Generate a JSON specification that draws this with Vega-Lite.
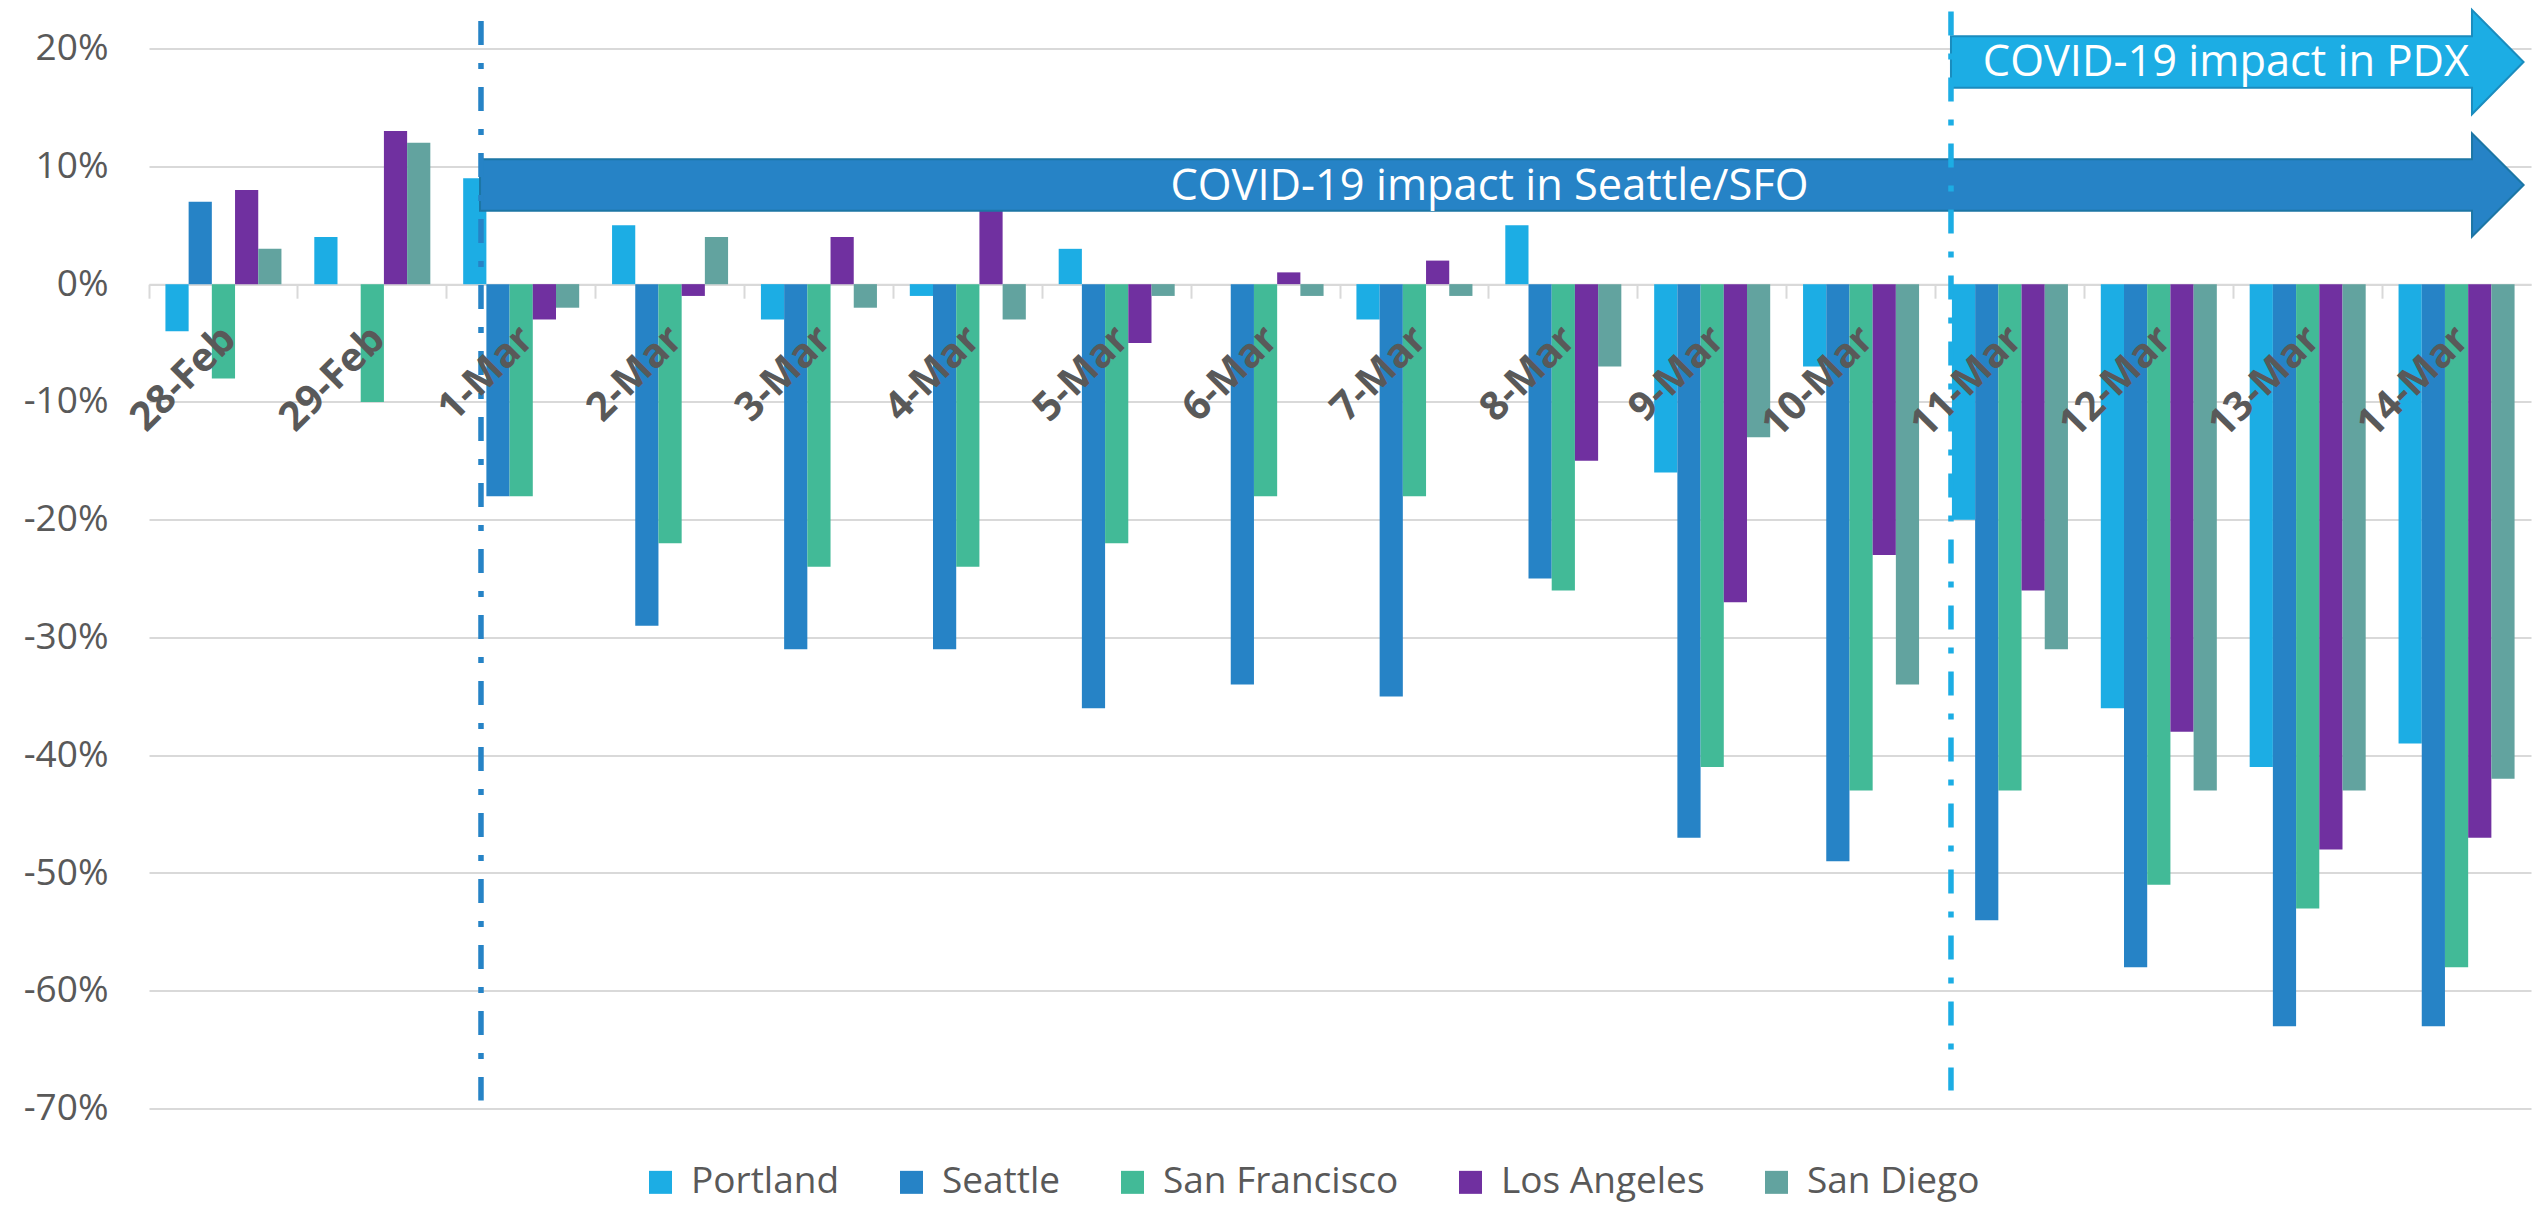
{
  "$schema": "https://vega.github.io/schema/vega-lite/v6.json",
  "width": 2382,
  "height": 1060,
  "autosize": {"type": "none"},
  "padding": {"left": 149, "top": 48.6, "right": 8, "bottom": 97.4},
  "background": "white",
  "config": {"view": {"stroke": null}, "font": "Open Sans"},
  "datasets": {
    "traffic": [
      {"date": "28-Feb", "city": "Portland", "value": -0.04},
      {"date": "28-Feb", "city": "Seattle", "value": 0.07},
      {"date": "28-Feb", "city": "San Francisco", "value": -0.08},
      {"date": "28-Feb", "city": "Los Angeles", "value": 0.08},
      {"date": "28-Feb", "city": "San Diego", "value": 0.03},
      {"date": "29-Feb", "city": "Portland", "value": 0.04},
      {"date": "29-Feb", "city": "Seattle", "value": 0.0},
      {"date": "29-Feb", "city": "San Francisco", "value": -0.10},
      {"date": "29-Feb", "city": "Los Angeles", "value": 0.13},
      {"date": "29-Feb", "city": "San Diego", "value": 0.12},
      {"date": "1-Mar", "city": "Portland", "value": 0.09},
      {"date": "1-Mar", "city": "Seattle", "value": -0.18},
      {"date": "1-Mar", "city": "San Francisco", "value": -0.18},
      {"date": "1-Mar", "city": "Los Angeles", "value": -0.03},
      {"date": "1-Mar", "city": "San Diego", "value": -0.02},
      {"date": "2-Mar", "city": "Portland", "value": 0.05},
      {"date": "2-Mar", "city": "Seattle", "value": -0.29},
      {"date": "2-Mar", "city": "San Francisco", "value": -0.22},
      {"date": "2-Mar", "city": "Los Angeles", "value": -0.01},
      {"date": "2-Mar", "city": "San Diego", "value": 0.04},
      {"date": "3-Mar", "city": "Portland", "value": -0.03},
      {"date": "3-Mar", "city": "Seattle", "value": -0.31},
      {"date": "3-Mar", "city": "San Francisco", "value": -0.24},
      {"date": "3-Mar", "city": "Los Angeles", "value": 0.04},
      {"date": "3-Mar", "city": "San Diego", "value": -0.02},
      {"date": "4-Mar", "city": "Portland", "value": -0.01},
      {"date": "4-Mar", "city": "Seattle", "value": -0.31},
      {"date": "4-Mar", "city": "San Francisco", "value": -0.24},
      {"date": "4-Mar", "city": "Los Angeles", "value": 0.07},
      {"date": "4-Mar", "city": "San Diego", "value": -0.03},
      {"date": "5-Mar", "city": "Portland", "value": 0.03},
      {"date": "5-Mar", "city": "Seattle", "value": -0.36},
      {"date": "5-Mar", "city": "San Francisco", "value": -0.22},
      {"date": "5-Mar", "city": "Los Angeles", "value": -0.05},
      {"date": "5-Mar", "city": "San Diego", "value": -0.01},
      {"date": "6-Mar", "city": "Portland", "value": 0.0},
      {"date": "6-Mar", "city": "Seattle", "value": -0.34},
      {"date": "6-Mar", "city": "San Francisco", "value": -0.18},
      {"date": "6-Mar", "city": "Los Angeles", "value": 0.01},
      {"date": "6-Mar", "city": "San Diego", "value": -0.01},
      {"date": "7-Mar", "city": "Portland", "value": -0.03},
      {"date": "7-Mar", "city": "Seattle", "value": -0.35},
      {"date": "7-Mar", "city": "San Francisco", "value": -0.18},
      {"date": "7-Mar", "city": "Los Angeles", "value": 0.02},
      {"date": "7-Mar", "city": "San Diego", "value": -0.01},
      {"date": "8-Mar", "city": "Portland", "value": 0.05},
      {"date": "8-Mar", "city": "Seattle", "value": -0.25},
      {"date": "8-Mar", "city": "San Francisco", "value": -0.26},
      {"date": "8-Mar", "city": "Los Angeles", "value": -0.15},
      {"date": "8-Mar", "city": "San Diego", "value": -0.07},
      {"date": "9-Mar", "city": "Portland", "value": -0.16},
      {"date": "9-Mar", "city": "Seattle", "value": -0.47},
      {"date": "9-Mar", "city": "San Francisco", "value": -0.41},
      {"date": "9-Mar", "city": "Los Angeles", "value": -0.27},
      {"date": "9-Mar", "city": "San Diego", "value": -0.13},
      {"date": "10-Mar", "city": "Portland", "value": -0.07},
      {"date": "10-Mar", "city": "Seattle", "value": -0.49},
      {"date": "10-Mar", "city": "San Francisco", "value": -0.43},
      {"date": "10-Mar", "city": "Los Angeles", "value": -0.23},
      {"date": "10-Mar", "city": "San Diego", "value": -0.34},
      {"date": "11-Mar", "city": "Portland", "value": -0.20},
      {"date": "11-Mar", "city": "Seattle", "value": -0.54},
      {"date": "11-Mar", "city": "San Francisco", "value": -0.43},
      {"date": "11-Mar", "city": "Los Angeles", "value": -0.26},
      {"date": "11-Mar", "city": "San Diego", "value": -0.31},
      {"date": "12-Mar", "city": "Portland", "value": -0.36},
      {"date": "12-Mar", "city": "Seattle", "value": -0.58},
      {"date": "12-Mar", "city": "San Francisco", "value": -0.51},
      {"date": "12-Mar", "city": "Los Angeles", "value": -0.38},
      {"date": "12-Mar", "city": "San Diego", "value": -0.43},
      {"date": "13-Mar", "city": "Portland", "value": -0.41},
      {"date": "13-Mar", "city": "Seattle", "value": -0.63},
      {"date": "13-Mar", "city": "San Francisco", "value": -0.53},
      {"date": "13-Mar", "city": "Los Angeles", "value": -0.48},
      {"date": "13-Mar", "city": "San Diego", "value": -0.43},
      {"date": "14-Mar", "city": "Portland", "value": -0.39},
      {"date": "14-Mar", "city": "Seattle", "value": -0.63},
      {"date": "14-Mar", "city": "San Francisco", "value": -0.58},
      {"date": "14-Mar", "city": "Los Angeles", "value": -0.47},
      {"date": "14-Mar", "city": "San Diego", "value": -0.42}
    ]
  },
  "layer": [
    {
      "data": {"name": "traffic"},
      "mark": {"type": "bar"},
      "encoding": {
        "x": {
          "field": "date", "type": "nominal", "title": null,
          "scale": {
            "domain": ["28-Feb", "29-Feb", "1-Mar", "2-Mar", "3-Mar", "4-Mar", "5-Mar", "6-Mar", "7-Mar", "8-Mar", "9-Mar", "10-Mar", "11-Mar", "12-Mar", "13-Mar", "14-Mar"],
            "paddingInner": 0, "paddingOuter": 0
          },
          "axis": {
            "orient": "bottom", "offset": -824.4, "labels": false, "title": null,
            "domain": true, "domainColor": "#D9D9D9", "domainWidth": 2,
            "ticks": true, "tickColor": "#D9D9D9", "tickWidth": 2, "tickSize": 14,
            "bandPosition": 0, "grid": false
          }
        },
        "xOffset": {
          "field": "city", "type": "nominal",
          "scale": {"domain": ["Portland", "Seattle", "San Francisco", "Los Angeles", "San Diego"], "paddingInner": 0, "paddingOuter": 0.708}
        },
        "y": {
          "field": "value", "type": "quantitative", "title": null,
          "scale": {"domain": [-0.7, 0.2], "nice": false, "zero": false},
          "axis": {
            "values": [-0.7, -0.6, -0.5, -0.4, -0.3, -0.2, -0.1, 0, 0.1, 0.2],
            "labelExpr": "(datum.value < 0 ? '-' : '') + format(abs(datum.value), '.0%')",
            "grid": true, "gridColor": "#D9D9D9", "gridWidth": 2,
            "domain": false, "ticks": false,
            "labelFontSize": 37, "labelColor": "#595959", "labelPadding": 41, "labelFont": "Open Sans"
          }
        },
        "color": {
          "field": "city", "type": "nominal",
          "scale": {
            "domain": ["Portland", "Seattle", "San Francisco", "Los Angeles", "San Diego"],
            "range": ["#1CADE4", "#2683C6", "#42BA97", "#7030A0", "#62A39F"]
          },
          "legend": {
            "orient": "none", "legendX": 493, "legendY": 1115, "direction": "horizontal",
            "title": null, "symbolType": "square", "symbolSize": 529, "symbolStrokeWidth": 0,
            "labelFontSize": 37, "labelColor": "#595959", "labelFont": "Open Sans",
            "labelOffset": 12, "columnPadding": 53, "padding": 0, "labelLimit": 500
          }
        }
      }
    },
    {
      "data": {"values": [{"label": "COVID-19 impact in Seattle/SFO"}]},
      "mark": {
        "type": "point",
        "shape": "M -1 -0.0252 L 0.9495 -0.0252 L 0.9495 -0.0504 L 1 0 L 0.9495 0.0504 L 0.9495 0.0252 L -1 0.0252 Z",
        "size": 4176300, "filled": true, "fill": "#2683C6", "stroke": "#1C76A5", "strokeWidth": 2, "opacity": 1
      },
      "encoding": {
        "x": {"datum": "8-Mar", "type": "nominal", "bandPosition": 0.087, "title": null},
        "y": {"datum": 0.0842, "type": "quantitative", "title": null}
      }
    },
    {
      "data": {"values": [{"label": "COVID-19 impact in PDX"}]},
      "mark": {
        "type": "point",
        "shape": "M -1 -0.0901 L 0.8198 -0.0901 L 0.8198 -0.1823 L 1 0 L 0.8198 0.1823 L 0.8198 0.0901 L -1 0.0901 Z",
        "size": 327871, "filled": true, "fill": "#1CADE4", "stroke": "#1A8CBE", "strokeWidth": 2, "opacity": 1
      },
      "encoding": {
        "x": {"datum": "13-Mar", "type": "nominal", "bandPosition": 0.027, "title": null},
        "y": {"datum": 0.1886, "type": "quantitative", "title": null}
      }
    },
    {
      "data": {"values": [{"label": "COVID-19 impact in Seattle/SFO"}]},
      "mark": {"type": "text", "align": "center", "baseline": "alphabetic", "fontSize": 43.4, "color": "#FFFFFF", "font": "Open Sans"},
      "encoding": {
        "x": {"datum": "8-Mar", "type": "nominal", "bandPosition": 0.004, "title": null},
        "y": {"datum": 0.0716, "type": "quantitative", "title": null},
        "text": {"field": "label"}
      }
    },
    {
      "data": {"values": [{"label": "COVID-19 impact in PDX"}]},
      "mark": {"type": "text", "align": "center", "baseline": "alphabetic", "fontSize": 43.4, "color": "#FFFFFF", "font": "Open Sans"},
      "encoding": {
        "x": {"datum": "12-Mar", "type": "nominal", "bandPosition": 0.951, "title": null},
        "y": {"datum": 0.1769, "type": "quantitative", "title": null},
        "text": {"field": "label"}
      }
    },
    {
      "data": {"values": [{"event": "Seattle/SFO"}]},
      "mark": {"type": "rule", "color": "#2683C6", "strokeWidth": 5.5, "strokeDash": [24, 18, 6, 18]},
      "encoding": {
        "x": {"datum": "1-Mar", "type": "nominal", "bandPosition": 0.23, "title": null},
        "y": {"datum": 0.2234, "type": "quantitative", "title": null},
        "y2": {"datum": -0.6932}
      }
    },
    {
      "data": {"values": [{"event": "PDX"}]},
      "mark": {"type": "rule", "color": "#1CADE4", "strokeWidth": 5.5, "strokeDash": [24, 18, 6, 18]},
      "encoding": {
        "x": {"datum": "11-Mar", "type": "nominal", "bandPosition": 0.104, "title": null},
        "y": {"datum": 0.2315, "type": "quantitative", "title": null},
        "y2": {"datum": -0.6847}
      }
    },
    {
      "data": {"name": "traffic"},
      "transform": [{"filter": "datum.city === 'Portland'"}],
      "mark": {"type": "text", "angle": -45, "align": "right", "baseline": "middle", "dx": -30.4, "dy": 38.9, "fontSize": 40, "fontWeight": "bold", "color": "#595959", "font": "Open Sans"},
      "encoding": {
        "x": {"field": "date", "type": "nominal", "title": null},
        "y": {"datum": 0, "type": "quantitative", "title": null},
        "text": {"field": "date"}
      }
    }
  ]
}
